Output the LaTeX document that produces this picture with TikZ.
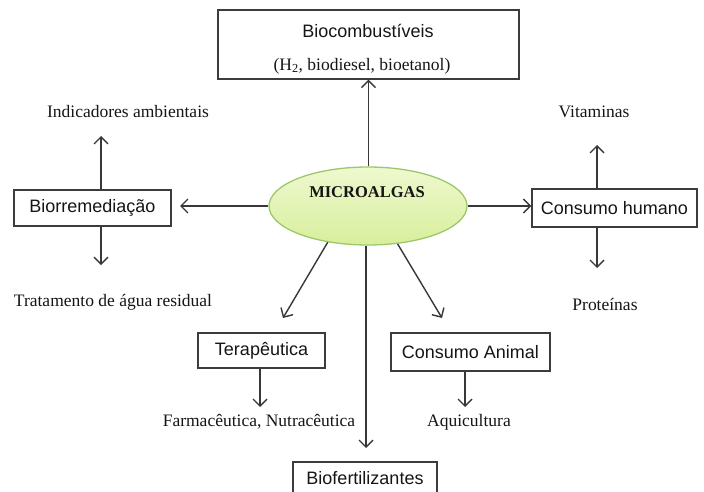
\documentclass[tikz,border=0pt]{standalone}
\usepackage{fontspec}
\setmainfont{Liberation Serif}
\newfontfamily\arialf{Liberation Sans}
\usetikzlibrary{shapes.geometric,arrows.meta}
\definecolor{boxline}{HTML}{3C3C3C}
\definecolor{arrline}{HTML}{383838}
\definecolor{txt}{HTML}{151515}
\definecolor{elltop}{HTML}{EEF8CF}
\definecolor{ellbot}{HTML}{D8EF9C}
\definecolor{ellline}{HTML}{9CC86A}
\tikzset{
  boxnode/.style={draw=boxline, line width=1.3pt, rectangle, inner sep=0pt, text=txt,
    font=\arialf\fontsize{18}{20}\selectfont},
  sertext/.style={text=txt, inner sep=0pt, font=\fontsize{17.5}{20}\selectfont},
  arr/.style={draw=arrline, line width=1.4pt, -{Straight Barb[length=7pt,width=14pt,line width=1.4pt]}},
}
\begin{document}
\begin{tikzpicture}[x=1pt,y=-1pt]
\useasboundingbox (0,0) rectangle (704,492);
\begin{scope}
\clip (0,0) rectangle (704,492);

% central ellipse
\node[ellipse, draw=ellline, line width=1.3pt, top color=elltop, bottom color=ellbot,
  minimum width=198pt, minimum height=78pt, inner sep=0pt] (alg) at (368,206) {};
\node[text=txt, inner sep=0pt, font=\bfseries\fontsize{16.5}{18}\selectfont] (algt) at (367,192) {MICROALGAS};

% Biocombustiveis
\node[boxnode, minimum width=301pt, minimum height=69pt] (bio) at (368.5,44.5) {};
\node[text=txt, inner sep=0pt, font=\arialf\fontsize{18}{20}\selectfont] (biot1) at (368,31) {Biocombustíveis};
\node[sertext] (biot2) at (362,66) {(H\textsubscript{2}, biodiesel, bioetanol)};

% Biorremediacao
\node[boxnode, minimum width=157pt, minimum height=36pt] (bior) at (92.5,208) {Biorremediação};
\node[sertext] (ind) at (128,112) {Indicadores ambientais};
\node[sertext] (trat) at (113,302) {Tratamento de água residual};

% Consumo humano
\node[boxnode, minimum width=165pt, minimum height=38pt] (hum) at (614.5,208) {Consumo humano};
\node[sertext] (vit) at (594,112) {Vitaminas};
\node[sertext] (prot) at (605,304) {Proteínas};

% Terapeutica
\node[boxnode, minimum width=127pt, minimum height=35pt] (ter) at (261.5,350.5) {Terapêutica};
\node[sertext] (farm) at (259,422) {Farmacêutica, Nutracêutica};

% Consumo animal
\node[boxnode, minimum width=159pt, minimum height=38pt] (ani) at (470.5,352) {Consumo Animal};
\node[sertext] (aqui) at (469,422) {Aquicultura};

% Biofertilizantes (cut at bottom)
\node[boxnode, minimum width=144pt, minimum height=56pt] (fert) at (365,490) {};
\node[text=txt, inner sep=0pt, font=\arialf\fontsize{18}{20}\selectfont] (fertt) at (365,478) {Biofertilizantes};

% free ends
\coordinate (bl) at (180,206);
\coordinate (biu) at (101,136);
\coordinate (bid) at (101,265);
\coordinate (hu) at (597,145);
\coordinate (hd) at (597,268);
\coordinate (tarr) at (283,318);
\coordinate (aarr) at (442,318);
\coordinate (vd) at (366,448);
\coordinate (td) at (260,407);
\coordinate (ad) at (465,407);

% connectors
\draw[arr] (alg.north -| bio.south) -- (bio.south);
\draw[arr] (alg.west) -- (bl);
\draw[arr] (alg.east) -- (alg.east -| hum.west);
\draw[arr] (bior.north -| biu) -- (biu);
\draw[arr] (bior.south -| bid) -- (bid);
\draw[arr] (hum.north -| hu) -- (hu);
\draw[arr] (hum.south -| hd) -- (hd);
\draw[arr] (alg.222) -- (tarr);
\draw[arr] (alg.308) -- (aarr);
\draw[arr] (alg.south -| vd) -- (vd);
\draw[arr] (ter.south -| td) -- (td);
\draw[arr] (ani.south -| ad) -- (ad);
\end{scope}
\end{tikzpicture}
\end{document}
